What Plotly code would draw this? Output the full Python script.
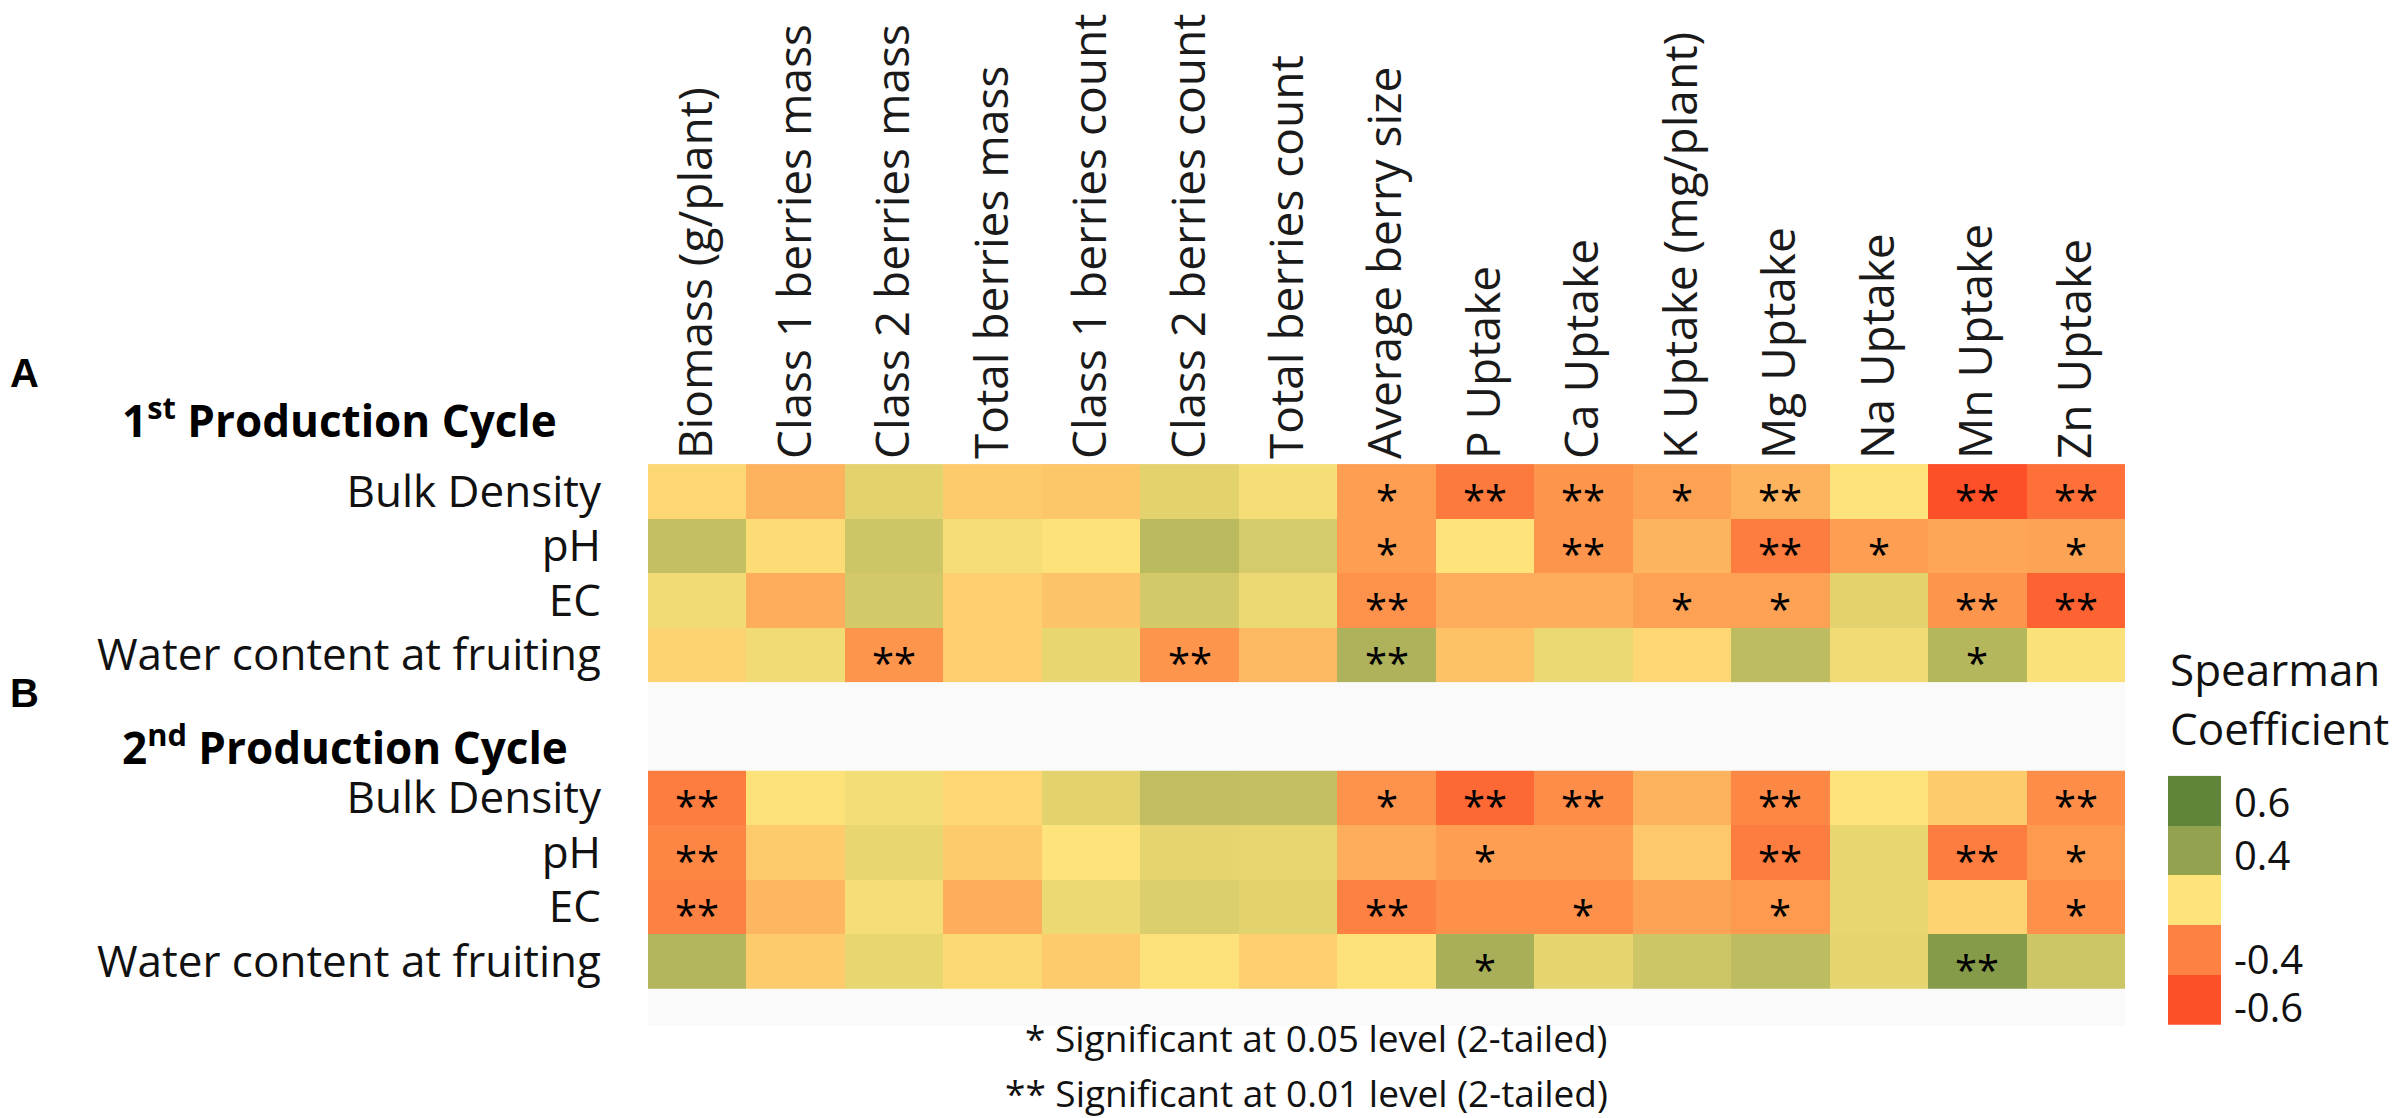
import plotly.graph_objects as go

W, H = 2403, 1118

columns = ["Biomass (g/plant)", "Class 1 berries mass", "Class 2 berries mass",
           "Total berries mass", "Class 1 berries count", "Class 2 berries count",
           "Total berries count", "Average berry size", "P Uptake", "Ca Uptake",
           "K Uptake (mg/plant)", "Mg Uptake", "Na Uptake", "Mn Uptake", "Zn Uptake"]
rows = ["Bulk Density", "pH", "EC", "Water content at fruiting"]

cycle1_values = [
    [-0.05, -0.20, 0.10, -0.10, -0.12, 0.10, 0.03, -0.28, -0.43, -0.32, -0.27, -0.20, 0.00, -0.60, -0.47],
    [0.22, -0.03, 0.18, 0.03, -0.01, 0.25, 0.15, -0.28, 0.00, -0.32, -0.19, -0.42, -0.28, -0.25, -0.26],
    [0.05, -0.22, 0.16, -0.08, -0.13, 0.16, 0.06, -0.33, -0.22, -0.22, -0.27, -0.27, 0.10, -0.32, -0.52],
    [-0.07, 0.05, -0.32, -0.08, 0.08, -0.32, -0.17, 0.30, -0.14, 0.07, -0.05, 0.24, 0.05, 0.27, 0.01],
]
cycle2_values = [
    [-0.42, -0.01, 0.04, -0.05, 0.10, 0.23, 0.22, -0.33, -0.50, -0.35, -0.20, -0.37, 0.00, -0.10, -0.35],
    [-0.38, -0.10, 0.08, -0.10, 0.00, 0.09, 0.08, -0.22, -0.28, -0.28, -0.11, -0.42, 0.08, -0.42, -0.30],
    [-0.40, -0.18, 0.03, -0.22, 0.06, 0.13, 0.10, -0.40, -0.34, -0.34, -0.26, -0.30, 0.08, -0.07, -0.34],
    [0.28, -0.10, 0.08, -0.04, -0.10, -0.01, -0.08, -0.01, 0.32, 0.09, 0.18, 0.24, 0.09, 0.45, 0.18],
]
cycle1_sig = [
    ["", "", "", "", "", "", "", "*", "**", "**", "*", "**", "", "**", "**"],
    ["", "", "", "", "", "", "", "*", "", "**", "", "**", "*", "", "*"],
    ["", "", "", "", "", "", "", "**", "", "", "*", "*", "", "**", "**"],
    ["", "", "**", "", "", "**", "", "**", "", "", "", "", "", "*", ""],
]
cycle2_sig = [
    ["**", "", "", "", "", "", "", "*", "**", "**", "", "**", "", "", "**"],
    ["**", "", "", "", "", "", "", "", "*", "", "", "**", "", "**", "*"],
    ["**", "", "", "", "", "", "", "**", "", "*", "", "*", "", "", "*"],
    ["", "", "", "", "", "", "", "", "*", "", "", "", "", "**", ""],
]
legend_values = [0.6, 0.4, 0.0, -0.4, -0.6]
legend_labels = ["0.6", "0.4", "-0.4", "-0.6"]

colorscale = [[0.0, "#fd4f28"], [1/6, "#fd8142"], [0.5, "#fde37a"],
              [5/6, "#93a24f"], [1.0, "#5f843a"]]

FONT = "Open Sans"
ROW_H = 55.0
TOP_PX, BOT_PX = 457, 1025
X0_PX, X1_PX = 640, 2117
block2_start = (767 - TOP_PX) / ROW_H
y_total = (BOT_PX - TOP_PX) / ROW_H

y1 = [i + 0.5 for i in range(len(rows))]
y2 = [block2_start + i + 0.5 for i in range(len(rows))]
xs = list(range(len(columns)))

fig = go.Figure()
fig.add_trace(go.Heatmap(z=cycle1_values, x=xs, y=y1, coloraxis="coloraxis", hoverinfo="z"))
fig.add_trace(go.Heatmap(z=cycle2_values, x=xs, y=y2, coloraxis="coloraxis", hoverinfo="z"))
fig.add_trace(go.Heatmap(z=[[v] for v in legend_values], x=[0], y=list(range(len(legend_values))),
                         coloraxis="coloraxis", xaxis="x2", yaxis="y2", hoverinfo="z"))

annotations = []
for sig, ys in ((cycle1_sig, y1), (cycle2_sig, y2)):
    for i, r in enumerate(sig):
        for j, s in enumerate(r):
            if s:
                annotations.append(dict(x=j, y=ys[i], xref="x", yref="y", text=s, showarrow=False,
                                        font=dict(family=FONT, size=40, color="black"), yshift=-8))

def px(x):
    return x / W

def py(y):
    return 1 - y / H

annotations += [
    dict(x=0, y=py(365), xref="paper", yref="paper", text="<b>A</b>", xanchor="left", yanchor="middle",
         showarrow=False, font=dict(family="Liberation Sans", size=40, color="black")),
    dict(x=0, y=py(688), xref="paper", yref="paper", text="<b>B</b>", xanchor="left", yanchor="middle",
         showarrow=False, font=dict(family="Liberation Sans", size=40, color="black")),
    dict(x=px(112), y=py(410), xref="paper", yref="paper", text="<b>1<sup>st</sup> Production Cycle</b>",
         xanchor="left", yanchor="middle", showarrow=False, font=dict(family=FONT, size=44, color="black")),
    dict(x=px(112), y=py(741), xref="paper", yref="paper", text="<b>2<sup>nd</sup> Production Cycle</b>",
         xanchor="left", yanchor="middle", showarrow=False, font=dict(family=FONT, size=44, color="black")),
    dict(x=px(2160), y=py(664), xref="paper", yref="paper", text="Spearman", xanchor="left", yanchor="middle",
         showarrow=False, font=dict(family=FONT, size=44, color="#111")),
    dict(x=px(2160), y=py(724), xref="paper", yref="paper", text="Coefficient", xanchor="left", yanchor="middle",
         showarrow=False, font=dict(family=FONT, size=44, color="#111")),
    dict(x=px(1602), y=py(1037), xref="paper", yref="paper", text="* Significant at 0.05 level (2-tailed)",
         xanchor="right", yanchor="middle", showarrow=False, font=dict(family=FONT, size=37, color="#111")),
    dict(x=px(1602), y=py(1092), xref="paper", yref="paper", text="** Significant at 0.01 level (2-tailed)",
         xanchor="right", yanchor="middle", showarrow=False, font=dict(family=FONT, size=37, color="#111")),
]

fig.update_layout(
    width=W, height=H, margin=dict(l=0, r=0, t=0, b=0),
    paper_bgcolor="white", plot_bgcolor="#fafafa",
    coloraxis=dict(colorscale=colorscale, cmin=-0.6, cmax=0.6, showscale=False),
    xaxis=dict(domain=[px(X0_PX), px(X1_PX)], range=[-0.5, len(columns) - 0.5], side="top",
               tickvals=xs, ticktext=columns, tickangle=-90, showgrid=False, zeroline=False,
               ticks="", ticklabelstandoff=4, tickfont=dict(family=FONT, size=46, color="#1a1a1a")),
    yaxis=dict(domain=[py(BOT_PX), py(TOP_PX)], range=[y_total, 0], tickvals=y1 + y2,
               ticktext=rows + rows, showgrid=False, zeroline=False, ticks="",
               ticklabelstandoff=46, tickfont=dict(family=FONT, size=44, color="#111")),
    xaxis2=dict(domain=[px(2160), px(2213)], range=[-0.5, 0.5], anchor="y2", visible=False),
    yaxis2=dict(domain=[py(1024), py(772)], range=[4.5, -0.5], anchor="x2", side="right",
                tickvals=[0.05, 1.12, 3.2, 4.15], ticktext=legend_labels, showgrid=False,
                zeroline=False, ticks="", ticklabelstandoff=12,
                tickfont=dict(family=FONT, size=40, color="#111")),
    annotations=annotations,
)

fig.write_html("out.html")
